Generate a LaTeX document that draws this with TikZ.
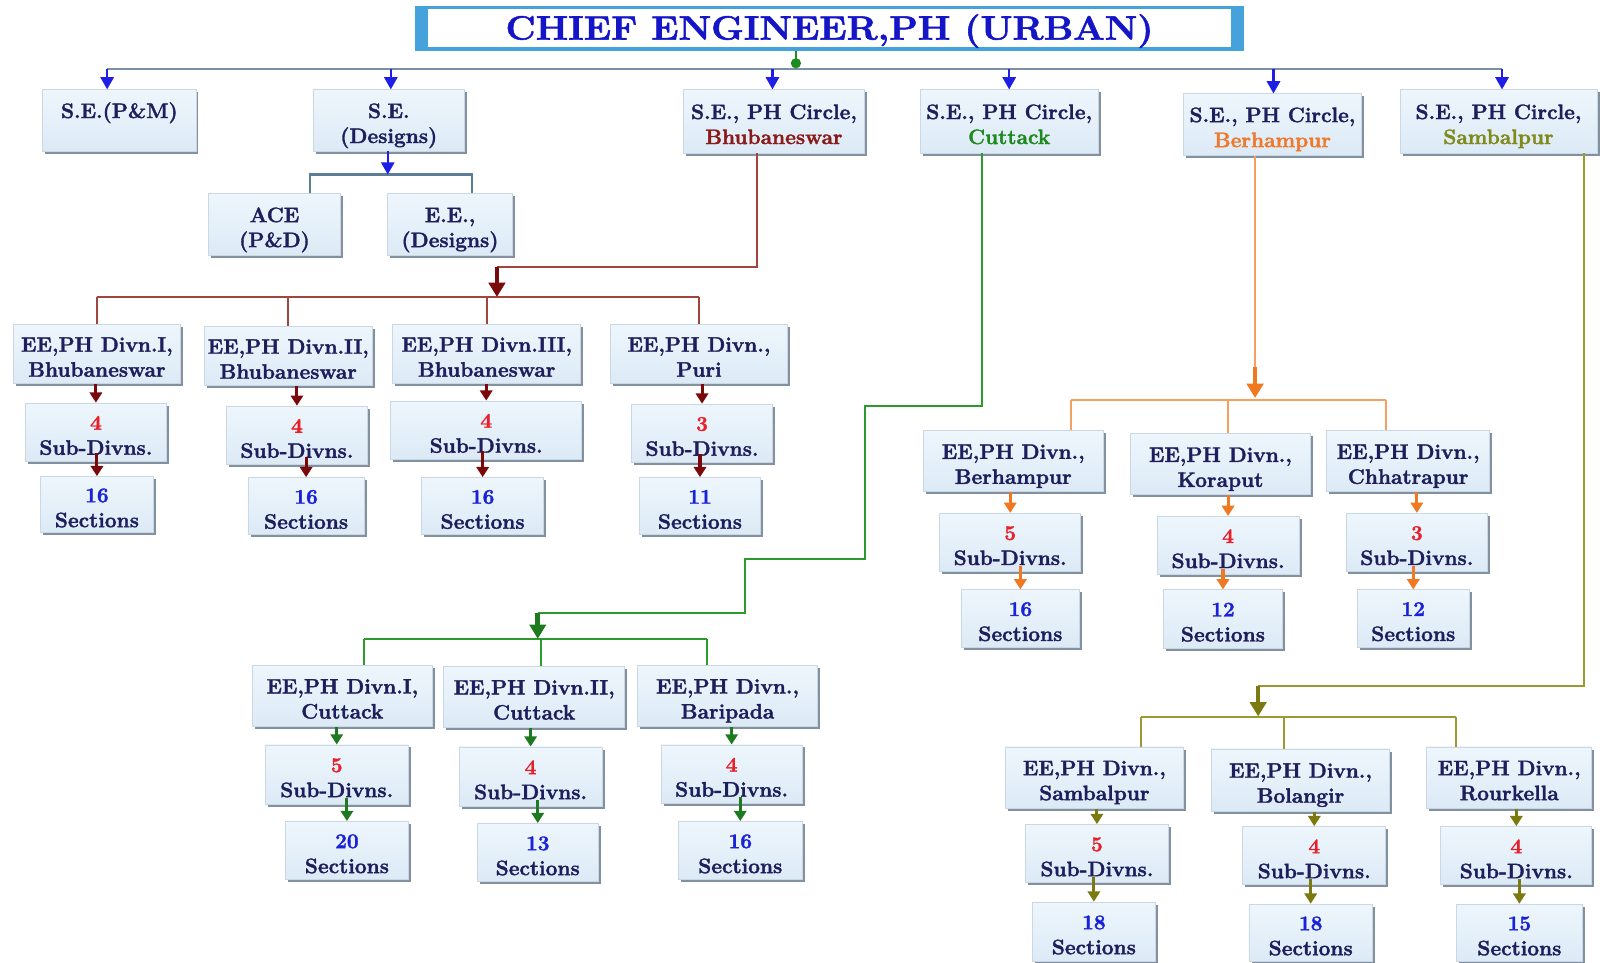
\documentclass[tikz,border=0pt]{standalone}
\usepackage{fontspec}
\setmainfont{Latin Modern Roman}[BoldFeatures={FakeBold=1.6}]
\usepackage{graphicx}
\usetikzlibrary{arrows.meta,shadows,calc}
\definecolor{navy}{HTML}{1E1E5C}
\definecolor{numred}{HTML}{E8202A}
\definecolor{numblue}{HTML}{1A22D8}
\definecolor{titletext}{HTML}{1515C8}
\definecolor{titlebar}{HTML}{45A2DA}
\definecolor{boxtop}{HTML}{EEF6FC}
\definecolor{boxbot}{HTML}{DCEAF6}
\definecolor{boxedge}{HTML}{CAD8E6}
\definecolor{shadowgray}{HTML}{8390A0}
\definecolor{topline}{HTML}{7890A8}
\definecolor{arrowblue}{HTML}{1E1EE6}
\definecolor{designline}{HTML}{5C7C98}
\definecolor{dotgreen}{HTML}{1E8C1E}
\definecolor{bbsrtext}{HTML}{8B1A1A}
\definecolor{bbsrline}{HTML}{A0453F}
\definecolor{bbsrarrow}{HTML}{7A0A0A}
\definecolor{ctctext}{HTML}{1E8A1E}
\definecolor{ctcline}{HTML}{2E9A2E}
\definecolor{ctcarrow}{HTML}{1E7A1E}
\definecolor{bhmtext}{HTML}{F07828}
\definecolor{bhmline}{HTML}{F5A060}
\definecolor{bhmarrow}{HTML}{F07820}
\definecolor{sbptext}{HTML}{7F8A1A}
\definecolor{sbpline}{HTML}{9A9A30}
\definecolor{sbparrow}{HTML}{7A7A10}
\newcommand\boxfont{\fontsize{20.5}{24.5}\selectfont\bfseries}
\newcommand\R[1]{\textcolor{numred}{#1}}
\newcommand\U[1]{\textcolor{numblue}{#1}}
\newcommand\mybox[6]{\node[box,minimum width=#4pt,minimum height=#5pt] (#1) at (#2,#3)
  {\raisebox{-5pt}[\height][\depth]{\begin{tabular}{@{}c@{}}#6\end{tabular}}};}
\tikzset{
  box/.style={top color=boxtop, bottom color=boxbot, draw=boxedge, line width=0.8pt,
    drop shadow={shadow xshift=2.5pt, shadow yshift=-2.5pt, fill=shadowgray, opacity=1},
    inner sep=1pt, font=\boxfont, text=navy},
  titlebox/.style={fill=white, draw=titlebar, line width=3pt, inner sep=0pt,
    font=\fontsize{33}{34}\selectfont\bfseries, text=titletext},
  ta/.style={-{Triangle[width=13pt,length=12pt]}, line width=2.2pt, arrowblue},
  sa/.style={-{Triangle[width=12pt,length=10pt]}, line width=3pt},
  ba/.style={-{Triangle[width=16pt,length=14pt]}, line width=4.5pt},
  ln/.style={line width=2pt}
}
\begin{document}
\begin{tikzpicture}[x=1pt,y=-1pt]
\useasboundingbox (0,0) rectangle (1568,943);
\fill[white] (0,0) rectangle (1568,943);

% title
\node[titlebox, minimum width=810pt, minimum height=41pt] (title) at (813,27.5)
  {\raisebox{-3pt}[\height][\depth]{\scalebox{1.1}[1]{CHIEF ENGINEER,PH (URBAN)}}};
\fill[titlebar] (title.north west) rectangle ([xshift=13pt]title.south west);
\fill[titlebar] (title.north east) rectangle ([xshift=-13pt]title.south east);

% level 1
\mybox{se1}{117}{118}{150}{60}{S.E.(P\&M)\\\phantom{X}}
\mybox{se2}{381}{118}{148}{60}{S.E.\\(Designs)}
\mybox{bbsr}{758.5}{119}{177}{62}{S.E., PH Circle,\\\textcolor{bbsrtext}{Bhubaneswar}}
\mybox{ctc}{989}{119}{174}{62}{S.E., PH Circle,\\\textcolor{ctctext}{Cuttack}}
\mybox{bhm}{1247}{122}{174}{60}{S.E., PH Circle,\\\textcolor{bhmtext}{Berhampur}}
\mybox{sbp}{1468.5}{119}{193}{62}{S.E., PH Circle,\\\textcolor{sbptext}{Sambalpur}}
\mybox{ace}{269}{220}{130}{60}{ACE\\(P\&D)}
\mybox{eed}{441}{220}{122}{60}{E.E.,\\(Designs)}

% Bhubaneswar
\mybox{b1}{95}{347}{164}{58}{EE,PH Divn.I,\\Bhubaneswar}
\mybox{b2}{282.5}{349}{165}{58}{EE,PH Divn.II,\\Bhubaneswar}
\mybox{b3}{477}{347}{184}{58}{EE,PH Divn.III,\\Bhubaneswar}
\mybox{b4}{685}{347}{174}{58}{EE,PH Divn.,\\Puri}
\mybox{bs1}{94}{423.5}{138}{57}{\R{4}\\Sub-Divns.}
\mybox{bs2}{291}{426.5}{138}{57}{\R{4}\\Sub-Divns.}
\mybox{bs3}{476.5}{421.5}{187}{57}{\R{4}\\Sub-Divns.}
\mybox{bs4}{688}{424.5}{138}{57}{\R{3}\\Sub-Divns.}
\mybox{bc1}{95}{494.5}{110}{55}{\U{16}\\Sections}
\mybox{bc2}{300}{496}{114}{56}{\U{16}\\Sections}
\mybox{bc3}{473}{496}{120}{56}{\U{16}\\Sections}
\mybox{bc4}{686}{496}{118}{56}{\U{11}\\Sections}

% Cuttack
\mybox{c1}{335.5}{682}{177}{60}{EE,PH Divn.I,\\Cuttack}
\mybox{c2}{523.5}{683}{177}{60}{EE,PH Divn.II,\\Cuttack}
\mybox{c3}{713}{682}{176}{60}{EE,PH Divn.,\\Baripada}
\mybox{cs1}{330}{759}{140}{58}{\R{5}\\Sub-Divns.}
\mybox{cs2}{520}{761}{140}{58}{\R{4}\\Sub-Divns.}
\mybox{cs3}{717}{758.5}{138}{57}{\R{4}\\Sub-Divns.}
\mybox{cc1}{340}{833.5}{120}{57}{\U{20}\\Sections}
\mybox{cc2}{527}{835.5}{118}{57}{\U{13}\\Sections}
\mybox{cc3}{725.5}{833.5}{121}{57}{\U{16}\\Sections}

% Berhampur
\mybox{o1}{993}{452}{176}{60}{EE,PH Divn.,\\Berhampur}
\mybox{o2}{1196}{455}{176}{60}{EE,PH Divn.,\\Koraput}
\mybox{o3}{1380}{452}{160}{60}{EE,PH Divn.,\\Chhatrapur}
\mybox{os1}{990}{531.5}{138}{57}{\R{5}\\Sub-Divns.}
\mybox{os2}{1203.5}{534.5}{139}{57}{\R{4}\\Sub-Divns.}
\mybox{os3}{1388.5}{531.5}{139}{57}{\R{3}\\Sub-Divns.}
\mybox{oc1}{1000}{606}{116}{56}{\U{16}\\Sections}
\mybox{oc2}{1198.5}{606.5}{117}{57}{\U{12}\\Sections}
\mybox{oc3}{1385}{606}{110}{56}{\U{12}\\Sections}

% Sambalpur
\mybox{s1}{1072.5}{762}{175}{60}{EE,PH Divn.,\\Sambalpur}
\mybox{s2}{1274.5}{764.5}{175}{61}{EE,PH Divn.,\\Bolangir}
\mybox{s3}{1479}{762}{162}{60}{EE,PH Divn.,\\Rourkella}
\mybox{ss1}{1075}{836.5}{140}{57}{\R{5}\\Sub-Divns.}
\mybox{ss2}{1288}{838.5}{140}{57}{\R{4}\\Sub-Divns.}
\mybox{ss3}{1486}{838.5}{148}{57}{\R{4}\\Sub-Divns.}
\mybox{sc1}{1072}{913}{120}{58}{\U{18}\\Sections}
\mybox{sc2}{1284.5}{914}{121}{56}{\U{18}\\Sections}
\mybox{sc3}{1489}{914}{124}{56}{\U{15}\\Sections}

% ---- top connectors
\coordinate (dot) at (780,62);
\draw[dotgreen, line width=1.5pt] (title.south -| dot) -- (dot);
\coordinate (tl) at (105,68);
\coordinate (tr) at (1472,68);
\draw[ln, topline] (tl) -- (tr);
\fill[dotgreen] (dot) circle (5pt);
\coordinate (a1) at (105,68);
\coordinate (a2) at (383,68);
\coordinate (a3) at (757,68);
\coordinate (a4) at (989,68);
\coordinate (a5) at (1248,68);
\coordinate (a6) at (1472,68);
\draw[ta] (a1) -- (a1 |- se1.north);
\draw[ta] (a2) -- (a2 |- se2.north);
\draw[ta] (a3) -- (a3 |- bbsr.north);
\draw[ta] (a4) -- (a4 |- ctc.north);
\draw[ta] (a5) -- (a5 |- bhm.north);
\draw[ta] (a6) -- (a6 |- sbp.north);

% designs
\coordinate (dj) at (380,171);
\coordinate (dl) at (304,171);
\coordinate (dr) at (463,171);
\draw[ln, designline] (dl |- ace.north) -- (dl) -- (dr) -- (dr |- eed.north);
\draw[ta] (se2.south -| dj) -- (dj);

% Bhubaneswar connectors
\coordinate (bk) at (742,262);
\coordinate (bj) at (487,262);
\coordinate (bj2) at (487,291);
\draw[ln, bbsrline] (bbsr.south -| bk) -- (bk) -- (bj);
\draw[ln, bbsrline] (b1.north |- bj2) -- (b4.north |- bj2);
\foreach \n in {b1,b2,b3,b4} \draw[ln, bbsrline] (\n.north |- bj2) -- (\n.north);
\draw[ba, bbsrarrow] (bj) -- (bj2);
\foreach \a/\b in {b1/bs1,b2/bs2,b3/bs3,b4/bs4}
  \draw[sa, bbsrarrow] (\a.south -| \b.north) -- (\b.north);
\foreach \a/\b in {bs1/bc1,bs2/bc2,bs3/bc3,bs4/bc4}
  \draw[sa, bbsrarrow] ([yshift=8pt]\a.south -| \b.north) -- (\b.north);

% Cuttack connectors
\coordinate (g1) at (962,398);
\coordinate (g2) at (848,398);
\coordinate (g3) at (848,548);
\coordinate (g4) at (730,548);
\coordinate (g5) at (730,601);
\coordinate (g6) at (527,601);
\coordinate (g7) at (527,626);
\coordinate (gd1) at (357,626);
\coordinate (gd2) at (530,626);
\coordinate (gd3) at (693,626);
\draw[ln, ctcline] (ctc.south -| g1) -- (g1) -- (g2) -- (g3) -- (g4) -- (g5) -- (g6);
\draw[ln, ctcline] (gd1) -- (gd3);
\draw[ln, ctcline] (gd1) -- (gd1 |- c1.north);
\draw[ln, ctcline] (gd2) -- (gd2 |- c2.north);
\draw[ln, ctcline] (gd3) -- (gd3 |- c3.north);
\draw[ba, ctcarrow] (g6) -- (g7);
\foreach \a/\b in {c1/cs1,c2/cs2,c3/cs3}
  \draw[sa, ctcarrow] (\a.south -| \b.north) -- (\b.north);
\foreach \a/\b in {cs1/cc1,cs2/cc2,cs3/cc3}
  \draw[sa, ctcarrow] ([yshift=6pt]\a.south -| \b.north) -- (\b.north);

% Berhampur connectors
\coordinate (oj) at (1230,390);
\coordinate (od1) at (1050,392);
\coordinate (od2) at (1203,392);
\coordinate (od3) at (1358,392);
\draw[ln, bhmline] (od1) -- (od3);
\draw[ln, bhmline] (od1) -- (od1 |- o1.north);
\draw[ln, bhmline] (od2) -- (od2 |- o2.north);
\draw[ln, bhmline] (od3) -- (od3 |- o3.north);
\draw[ln, bhmline] (bhm.south -| oj) -- ([yshift=30pt]oj);
\draw[ba, bhmarrow] ([yshift=30pt]oj) -- (oj);
\foreach \a/\b in {o1/os1,o2/os2,o3/os3}
  \draw[sa, bhmarrow] (\a.south -| \b.north) -- (\b.north);
\foreach \a/\b in {os1/oc1,os2/oc2,os3/oc3}
  \draw[sa, bhmarrow] ([yshift=6pt]\a.south -| \b.north) -- (\b.north);

% Sambalpur connectors
\coordinate (sk1) at (1552,672);
\coordinate (sk2) at (1233,672);
\coordinate (sj) at (1233,702);
\coordinate (sd1) at (1118,703);
\coordinate (sd2) at (1258,703);
\coordinate (sd3) at (1427,703);
\draw[ln, sbpline] (sbp.south -| sk1) -- (sk1) -- (sk2);
\draw[ln, sbpline] (sd1) -- (sd3);
\draw[ln, sbpline] (sd1) -- (sd1 |- s1.north);
\draw[ln, sbpline] (sd2) -- (sd2 |- s2.north);
\draw[ln, sbpline] (sd3) -- (sd3 |- s3.north);
\draw[ba, sbparrow] (sk2) -- (sj);
\foreach \a/\b in {s1/ss1,s2/ss2,s3/ss3}
  \draw[sa, sbparrow] (\a.south -| \b.north) -- (\b.north);
\foreach \a/\b in {ss1/sc1,ss2/sc2,ss3/sc3}
  \draw[sa, sbparrow] ([yshift=6pt]\a.south -| \b.north) -- (\b.north);
\end{tikzpicture}
\end{document}
